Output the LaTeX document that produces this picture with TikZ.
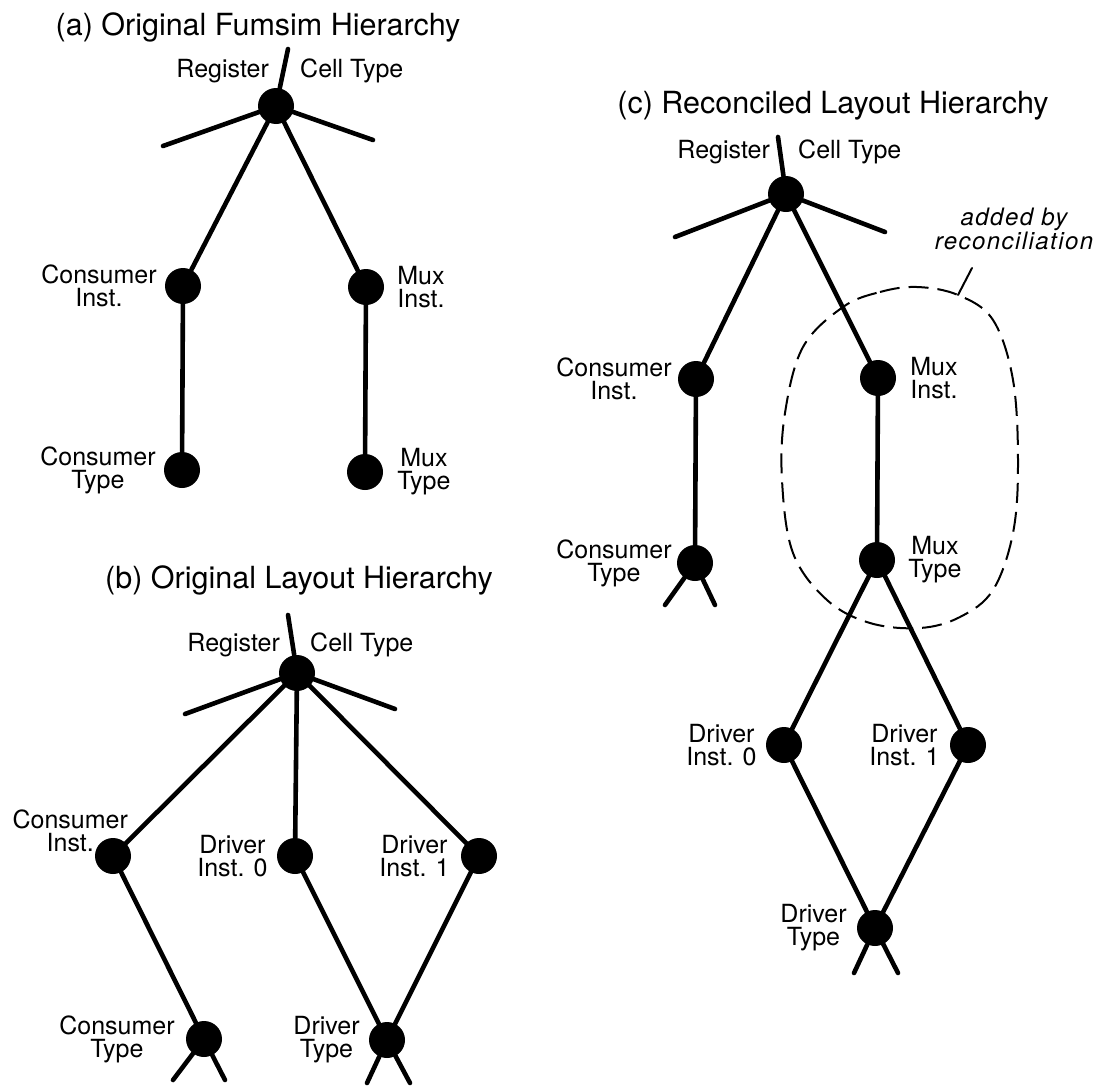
\documentclass[tikz,border=0pt]{standalone}
\usepackage{fontspec}
\setmainfont{TeX Gyre Heros}
\usetikzlibrary{positioning}

\begin{document}
\begin{tikzpicture}[
  x=1pt, y=-1pt,
  vertex/.style={circle, fill=black, minimum size=36pt, inner sep=0pt},
  branch/.style={line width=4.6pt, line cap=round},
  nlabel/.style={align=center, inner sep=0pt, font=\fontsize{25}{23}\selectfont},
  ptitle/.style={anchor=base, inner sep=0pt, font=\fontsize{30.5}{36}\selectfont},
  blob/.style={line width=2pt, dash pattern=on 20pt off 9pt},
  lead/.style={line width=2pt, line cap=round},
]
  \useasboundingbox (0,0) rectangle (1101,1087);

  % (a) Fumsim hierarchy
  \node[ptitle] (ta) at (258,35) {(a) Original Fumsim Hierarchy};
  \node[vertex] (ra) at (276,106) {};
  \node[vertex] (cia) at (183,286) {};
  \node[vertex] (mia) at (366,287) {};
  \node[vertex] (cta) at (182,470) {};
  \node[vertex] (mta) at (365,472) {};
  \node[nlabel, anchor=base east] at ([xshift=-7pt, yshift=29pt]ra.center) {Register};
  \node[nlabel, anchor=base west] at ([xshift=24pt, yshift=29pt]ra.center) {Cell Type};
  \node[nlabel, left=8pt of cia] {Consumer\\Inst.};
  \node[nlabel, right=13pt of mia] {Mux\\Inst.};
  \node[nlabel, left=8pt of cta] {Consumer\\Type};
  \node[nlabel, right=14pt of mta] {Mux\\Type};
  \coordinate (ra-up) at (288,49);
  \coordinate (ra-l) at (163,146);
  \coordinate (ra-r) at (373,140);
  \draw[branch] (ra) -- (ra-up);
  \draw[branch] (ra) -- (ra-l);
  \draw[branch] (ra) -- (ra-r);
  \draw[branch] (ra) -- (cia);
  \draw[branch] (ra) -- (mia);
  \draw[branch] (cia) -- (cta);
  \draw[branch] (mia) -- (mta);

  % (b) layout hierarchy
  \node[ptitle] (tb) at (299,588) {(b) Original Layout Hierarchy};
  \node[vertex] (rb) at (297,673) {};
  \node[vertex] (cib) at (113,856) {};
  \node[vertex] (d0b) at (295,856) {};
  \node[vertex] (d1b) at (479,856) {};
  \node[vertex] (ctb) at (204,1039) {};
  \node[vertex] (dtb) at (387,1040) {};
  \node[nlabel, anchor=base east] at ([xshift=-17pt, yshift=22pt]rb.center) {Register};
  \node[nlabel, anchor=base west] at ([xshift=13pt, yshift=22pt]rb.center) {Cell Type};
  \node[nlabel, above left=-9pt and -28pt of cib] {Consumer\\Inst.};
  \node[nlabel, left=9pt of d0b] {Driver\\Inst. 0};
  \node[nlabel, left=11pt of d1b] {Driver\\Inst. 1};
  \node[nlabel, left=11pt of ctb] {Consumer\\Type};
  \node[nlabel, left=9pt of dtb] {Driver\\Type};
  \coordinate (rb-up) at (288,615);
  \coordinate (rb-l) at (185,714);
  \coordinate (rb-r) at (395,709);
  \coordinate (ctb-l) at (173,1080);
  \coordinate (ctb-r) at (225,1080);
  \coordinate (dtb-l) at (367,1083);
  \coordinate (dtb-r) at (410,1083);
  \draw[branch] (rb) -- (rb-up);
  \draw[branch] (rb) -- (rb-l);
  \draw[branch] (rb) -- (rb-r);
  \draw[branch] (rb) -- (cib);
  \draw[branch] (rb) -- (d0b);
  \draw[branch] (rb) -- (d1b);
  \draw[branch] (cib) -- (ctb);
  \draw[branch] (d0b) -- (dtb);
  \draw[branch] (d1b) -- (dtb);
  \draw[branch] (ctb) -- (ctb-l);
  \draw[branch] (ctb) -- (ctb-r);
  \draw[branch] (dtb) -- (dtb-l);
  \draw[branch] (dtb) -- (dtb-r);

  % (c) reconciled hierarchy
  \node[ptitle] (tc) at (833,113) {(c) Reconciled Layout Hierarchy};
  \node[vertex] (rc) at (786,194) {};
  \node[vertex] (cic) at (696,379) {};
  \node[vertex] (mic) at (878,378) {};
  \node[vertex] (ctc) at (695,563) {};
  \node[vertex] (mtc) at (877,560) {};
  \node[vertex] (d0c) at (784,745) {};
  \node[vertex] (d1c) at (968,745) {};
  \node[vertex] (dtc) at (875,928) {};
  \node[nlabel, anchor=base east] at ([xshift=-16pt, yshift=36pt]rc.center) {Register};
  \node[nlabel, anchor=base west] at ([xshift=12pt, yshift=36pt]rc.center) {Cell Type};
  \node[nlabel, left=6pt of cic] {Consumer\\Inst.};
  \node[nlabel, right=14pt of mic] {Mux\\Inst.};
  \node[nlabel, left=5pt of ctc] {Consumer\\Type};
  \node[nlabel, right=13pt of mtc] {Mux\\Type};
  \node[nlabel, left=9pt of d0c] {Driver\\Inst. 0};
  \node[nlabel, left=10pt of d1c] {Driver\\Inst. 1};
  \node[nlabel, left=10pt of dtc] {Driver\\Type};
  \coordinate (rc-up) at (778,137);
  \coordinate (rc-l) at (675,237);
  \coordinate (rc-r) at (885,232);
  \coordinate (ctc-l) at (665,605);
  \coordinate (ctc-r) at (715,605);
  \coordinate (dtc-l) at (854,973);
  \coordinate (dtc-r) at (898,973);
  \draw[branch] (rc) -- (rc-up);
  \draw[branch] (rc) -- (rc-l);
  \draw[branch] (rc) -- (rc-r);
  \draw[branch] (rc) -- (cic);
  \draw[branch] (rc) -- (mic);
  \draw[branch] (cic) -- (ctc);
  \draw[branch] (mic) -- (mtc);
  \draw[branch] (mtc) -- (d0c);
  \draw[branch] (mtc) -- (d1c);
  \draw[branch] (d0c) -- (dtc);
  \draw[branch] (d1c) -- (dtc);
  \draw[branch] (ctc) -- (ctc-l);
  \draw[branch] (ctc) -- (ctc-r);
  \draw[branch] (dtc) -- (dtc-l);
  \draw[branch] (dtc) -- (dtc-r);

  % dashed region and its note
  \draw[blob] plot[smooth cycle, tension=0.6] coordinates {
    (843,307) (880,292) (917,287) (958,295) (993,320) (1013,380) (1018,463)
    (1013,533) (993,590) (960,617) (920,628) (870,623) (827,600) (793,553)
    (782,480) (785,413) (803,347)};
  \node[inner sep=0pt, align=center, anchor=south,
    font=\fontsize{24}{24}\selectfont\itshape\addfontfeatures{LetterSpace=6}]
    (note) at (1014,250) {added by\\reconciliation};
  \coordinate (lead-foot) at (958,295);
  \coordinate (lead-tip) at (972,268);
  \draw[lead] (lead-foot) -- (lead-tip);
\end{tikzpicture}
\end{document}
